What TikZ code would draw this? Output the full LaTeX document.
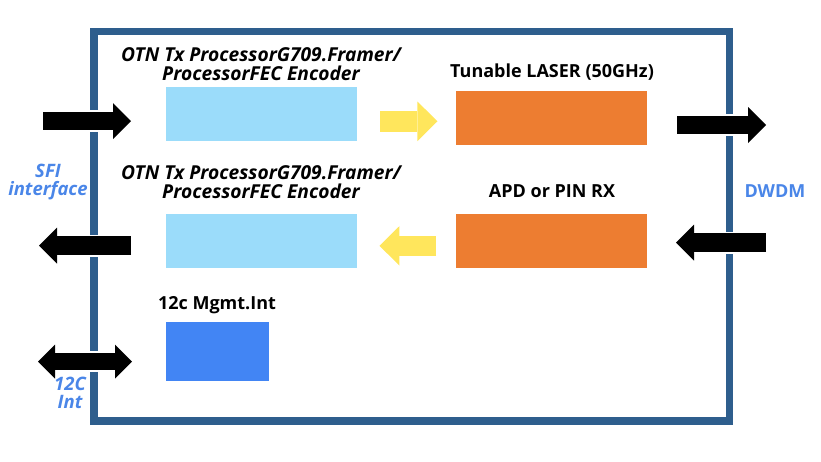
\documentclass[tikz,border=0pt]{standalone}
\usepackage{fontspec}
\setmainfont{Open Sans}
\usepackage{xcolor}
\usepackage{tikz}
\usetikzlibrary{arrows.meta, positioning, calc}

\definecolor{framecol}{HTML}{2E5E8D}
\definecolor{txblue}{HTML}{9BDCFA}
\definecolor{laserorange}{HTML}{ED7D31}
\definecolor{mgmtblue}{HTML}{4285F4}
\definecolor{flowyellow}{HTML}{FFE65C}
\definecolor{labelblue}{HTML}{4A86E8}

\begin{document}
\begin{tikzpicture}[
        x=1pt, y=-1pt,
        box/.style={rectangle, inner sep=0pt, minimum width=190.7pt, minimum height=54pt},
        title/.style={font=\fontsize{18}{18.7}\selectfont\bfseries, align=center, inner sep=0pt},
        ititle/.style={title, font=\fontsize{18.5}{18.7}\selectfont\bfseries\itshape},
        proctitle/.style={title, font=\fontsize{19.2}{18.8}\selectfont\bfseries\itshape},
        side/.style={ititle, text=labelblue},
        bigarrow/.style={line width=18pt, -{Triangle[length=18pt, width=36pt, line width=0pt]},
            preaction={draw=white, line width=22pt, arrows=-}},
        yarrow/.style={draw=flowyellow, line width=20.5pt, -{Triangle[length=20pt, width=39.5pt, line width=0pt]}}
    ]
    \useasboundingbox (0,0) rectangle (821,461);

    \node (board) [draw=framecol, line width=7.5pt, minimum width=635.5pt, minimum height=389.5pt] at (411.75,226.25) {};

    \node (txtop) [box, fill=txblue] at (261.3,113.7) {};
    \node (laser) [box, fill=laserorange, minimum height=53.7pt] at (551.3,117.8) {};
    \node (txbot) [box, fill=txblue, minimum height=53.7pt] at (261.3,240.9) {};
    \node (rx) [box, fill=laserorange, minimum height=53.7pt] at (551.3,240.9) {};
    \node (mgmt) [box, fill=mgmtblue, minimum width=103pt, minimum height=58.7pt] at (217.5,351.3) {};

    \node (txtoplabel) [proctitle] at (261,64) {OTN Tx ProcessorG709.Framer/\\ProcessorFEC Encoder};
    \node (laserlabel) [title] at (552,72.5) {Tunable LASER (50GHz)};
    \node (txbotlabel) [proctitle] at (261,182) {OTN Tx ProcessorG709.Framer/\\ProcessorFEC Encoder};
    \node (rxlabel) [title] at (552,191.5) {APD or PIN RX};
    \node (mgmtlabel) [title] at (217,305) {12c Mgmt.Int};
    \node (sfi) [side] at (48,182) {SFI\\interface};
    \node (dwdm) [title, text=labelblue] at (775,191.5) {DWDM};
    \node (i2c) [side] at (70,393) {12C\\Int};

    % outside ends of the interface arrows
    \coordinate (sfiin) at (43,121);
    \coordinate (sfiinend) at (131,121);
    \coordinate (sfiout) at (131,245.5);
    \coordinate (sfioutend) at (39,245.5);
    \coordinate (dwdmout) at (677,125);
    \coordinate (dwdmoutend) at (766,125);
    \coordinate (dwdmin) at (766,242.7);
    \coordinate (dwdminend) at (676,242.7);
    \coordinate (i2cleft) at (38,361.5);
    \coordinate (i2cright) at (132,361.5);

    \draw[bigarrow] (sfiin) -- (sfiinend);
    \draw[bigarrow, line width=19pt] (sfiout) -- (sfioutend);
    \draw[bigarrow] (dwdmout) -- (dwdmoutend);
    \draw[bigarrow, line width=19pt] (dwdmin) -- (dwdminend);
    \draw[line width=17pt, {Triangle[length=17pt, width=34pt, line width=0pt]}-{Triangle[length=17pt, width=34pt, line width=0pt]},
        preaction={draw=white, line width=21pt, arrows=-}] (i2cleft) -- (i2cright);

    \draw[yarrow, shorten <=23.3pt, shorten >=18.3pt] ($(txtop.east)+(0,7.6)$) -- ($(laser.west)+(0,3.5)$);
    \draw[yarrow, shorten <=19.3pt, shorten >=22.6pt] ($(rx.west)+(0,4.9)$) -- ($(txbot.east)+(0,4.9)$);

\end{tikzpicture}
\end{document}
